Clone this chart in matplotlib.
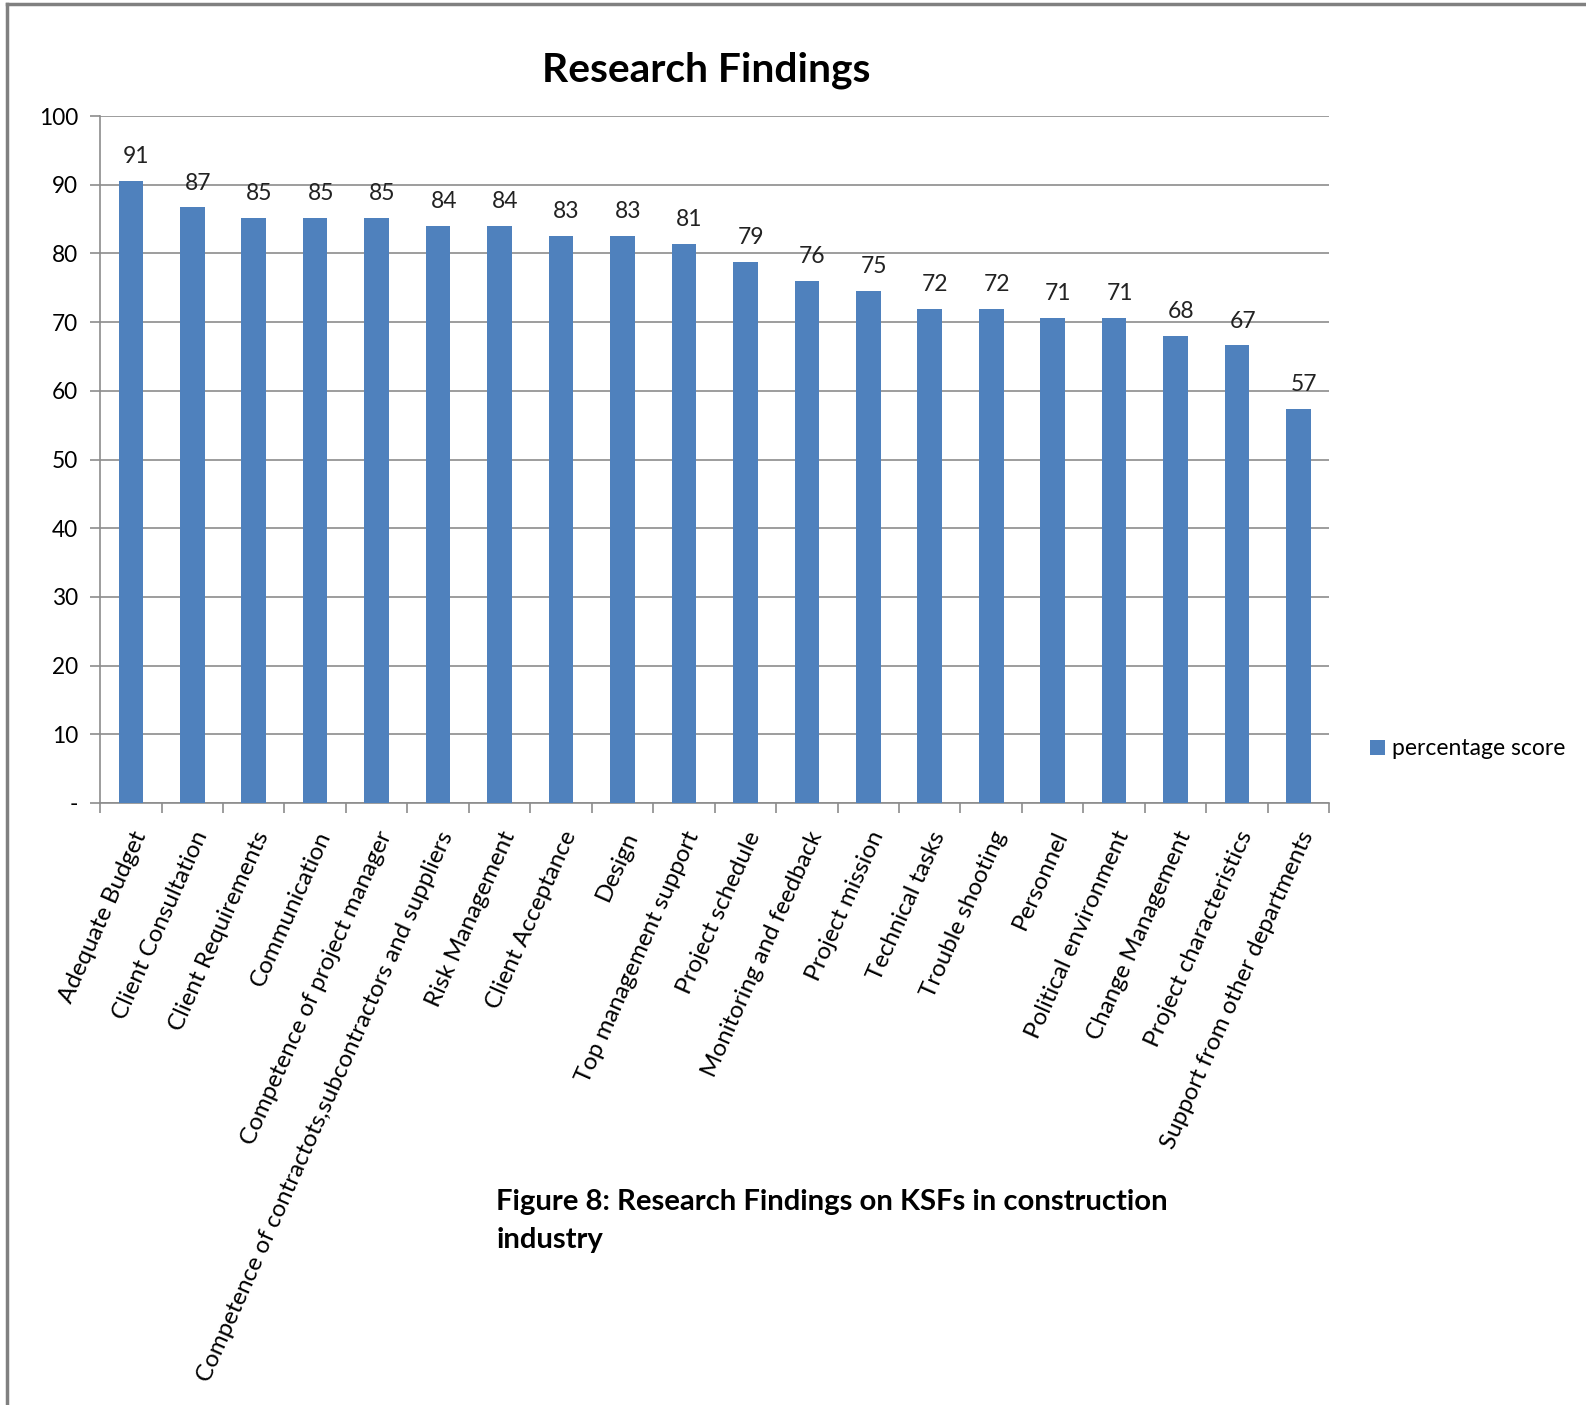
import matplotlib
matplotlib.use('Agg')
from matplotlib import pyplot as plt
from matplotlib.lines import Line2D
import numpy as np

factors = ['Adequate Budget', 'Client Consultation', 'Client Requirements',
           'Communication', 'Competence of project manager',
           'Competence of contractots,subcontractors and suppliers',
           'Risk Management', 'Client Acceptance', 'Design',
           'Top management support', 'Project schedule',
           'Monitoring and feedback', 'Project mission', 'Technical tasks',
           'Trouble shooting', 'Personnel', 'Political environment',
           'Change Management', 'Project characteristics',
           'Support from other departments']
scores = [90.6, 86.7, 85.2, 85.2, 85.2, 84.0, 84.0, 82.6, 82.6, 81.4,
          78.7, 76.0, 74.6, 71.9, 71.9, 70.6, 70.6, 68.0, 66.6, 57.4]
yticks = [0, 10, 20, 30, 40, 50, 60, 70, 80, 90, 100]
ytick_labels = ['-', '10', '20', '30', '40', '50', '60', '70', '80', '90', '100']

plt.rcParams['font.family'] = ['Lato', 'DejaVu Sans']
blue = '#4f81bd'
gray = '#8c8c8c'

fig = plt.figure(figsize=(15.86, 14.05), dpi=100)
ax = fig.add_axes([0.0631, 0.4285, 0.775, 0.4889])

x = np.arange(len(factors))
bars = ax.bar(x, scores, width=0.4, color=blue, label='percentage score', zorder=3)
for xi, v in zip(x, scores):
    ax.annotate(f'{v:.0f}', (xi, v), xytext=(4, 10), textcoords='offset points',
                ha='center', va='bottom', fontsize=16.5, color='#222222')

ax.set_xlim(-0.5, len(factors) - 0.5)
ax.set_ylim(0, 100)
ax.set_yticks(yticks)
ax.set_yticklabels(ytick_labels, fontsize=16.3)
ax.yaxis.grid(True, color=gray, linewidth=1.2, zorder=0)
ax.set_xticks(np.arange(len(factors) + 1) - 0.5)
ax.set_xticklabels([])
ax.set_xticks(x, minor=True)
ax.set_xticklabels(factors, minor=True, rotation=66, ha='right',
                   rotation_mode='anchor', fontsize=17.4)
ax.tick_params(axis='x', which='minor', length=0, pad=18)
ax.tick_params(axis='x', which='major', length=7, color=gray, width=1.2)
ax.tick_params(axis='y', length=7, color=gray, width=1.2, pad=9)
for s in ['top', 'right']:
    ax.spines[s].set_visible(False)
for s in ['left', 'bottom']:
    ax.spines[s].set_color(gray)
    ax.spines[s].set_linewidth(1.2)

fig.legend(handles=[bars], loc='center left', bbox_to_anchor=(0.851, 0.467),
           frameon=False, fontsize=16.5, handlelength=0.65, handleheight=0.65,
           handletextpad=0.3)

fig.text(0.445, 0.950, 'Research Findings', ha='center', va='center',
         fontsize=29.3, fontweight='bold')
fig.text(0.313, 0.131, 'Figure 8: Research Findings on KSFs in construction\nindustry',
         ha='left', va='center', fontsize=21.1, fontweight='bold', linespacing=1.55)

# page border (top and left)
fig.add_artist(Line2D([0.0044, 0.0044], [0, 0.997], color='#808080', linewidth=2.5))
fig.add_artist(Line2D([0.0044, 1], [0.997, 0.997], color='#808080', linewidth=2.5))

fig.savefig('out.png', dpi=100)
